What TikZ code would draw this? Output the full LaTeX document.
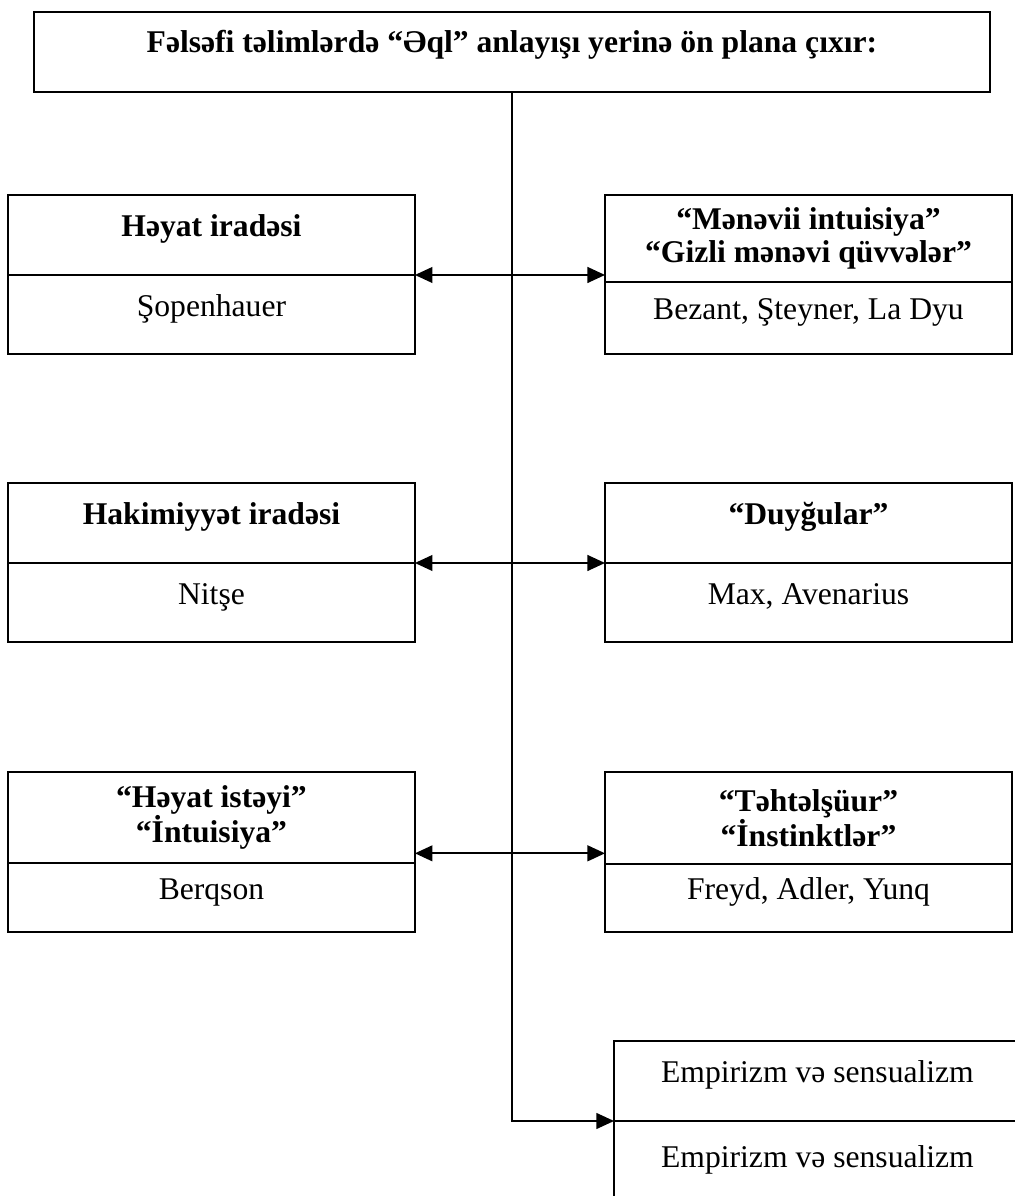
\documentclass[tikz,border=0pt]{standalone}
\usepackage{fontspec}
\setmainfont{Liberation Serif}
\usetikzlibrary{arrows.meta,positioning}
\tikzset{
  hcell/.style={rectangle,draw=black,line width=1pt,outer sep=0pt,
                minimum width=8.14cm,inner sep=2pt,align=center,
                font=\fontsize{18}{18.6}\selectfont\bfseries},
  oneline/.style={text height=12pt,text depth=10pt},
  fcell/.style={hcell,oneline,font=\fontsize{18}{18.6}\selectfont},
  link/.style={{Triangle[length=10pt,width=9pt]}-{Triangle[length=10pt,width=9pt]},
               line width=1pt},
  trunk/.style={-{Triangle[length=10pt,width=9pt]},line width=0.9pt},
}

\begin{document}
\begin{tikzpicture}[x=0.02cm,y=-0.02cm]
  \useasboundingbox (0,0) rectangle (1014,1196);
  % title
  \node[hcell,minimum width=19.12cm,minimum height=1.6cm,text height=12pt,text depth=11pt,
        anchor=north west] (title) at (34,12)
        {Fəlsəfi təlimlərdə “Əql” anlayışı yerinə ön plana çıxır:};
  %
  % left column
  \node[hcell,oneline,minimum height=1.6cm,anchor=north west] (hayatH) at (8,195) {Həyat iradəsi};
  \node[fcell,minimum height=1.58cm,below=0pt of hayatH] (hayatF) {Şopenhauer};
  \node[hcell,oneline,minimum height=1.6cm,anchor=north west] (hakimH) at (8,483) {Hakimiyyət iradəsi};
  \node[fcell,minimum height=1.58cm,below=0pt of hakimH] (hakimF) {Nitşe};
  \node[hcell,minimum height=1.82cm,anchor=north west] (istekH) at (8,772)
        {“Həyat istəyi”\\“İntuisiya”};
  \node[fcell,minimum height=1.38cm,below=0pt of istekH] (istekF) {Berqson};
  %
  % right column
  \node[hcell,minimum height=1.74cm,anchor=north west] (meneviH) at (605,195)
        {“Mənəvii intuisiya”\\“Gizli mənəvi qüvvələr”};
  \node[fcell,minimum height=1.44cm,below=0pt of meneviH] (meneviF) {Bezant, Şteyner, La Dyu};
  \node[hcell,oneline,minimum height=1.6cm,anchor=north west] (duyguH) at (605,483) {“Duyğular”};
  \node[fcell,minimum height=1.58cm,below=0pt of duyguH] (duyguF) {Max, Avenarius};
  \node[hcell,minimum height=1.84cm,anchor=north west] (instH) at (605,772)
        {“Təhtəlşüur”\\“İnstinktlər”};
  \node[fcell,minimum height=1.36cm,below=0pt of instH] (instF) {Freyd, Adler, Yunq};
  %
  % bottom box, cut by the page edge
  \node[fcell,minimum height=1.6cm,anchor=north west] (empH) at (614,1041) {Empirizm və sensualizm};
  \node[fcell,minimum height=1.8cm,below=0pt of empH] (empF) {Empirizm və sensualizm};
  %
  % connectors
  \draw[trunk] (title.south) |- (empH.south west);
  \draw[link] (hayatH.south east) -- (meneviH.west |- hayatH.south east);
  \draw[link] (hakimH.south east) -- (duyguH.south west);
  \coordinate (row3) at ([yshift=5.5pt]istekH.south east);
  \draw[link] (row3) -- (row3 -| instH.west);
\end{tikzpicture}
\end{document}
